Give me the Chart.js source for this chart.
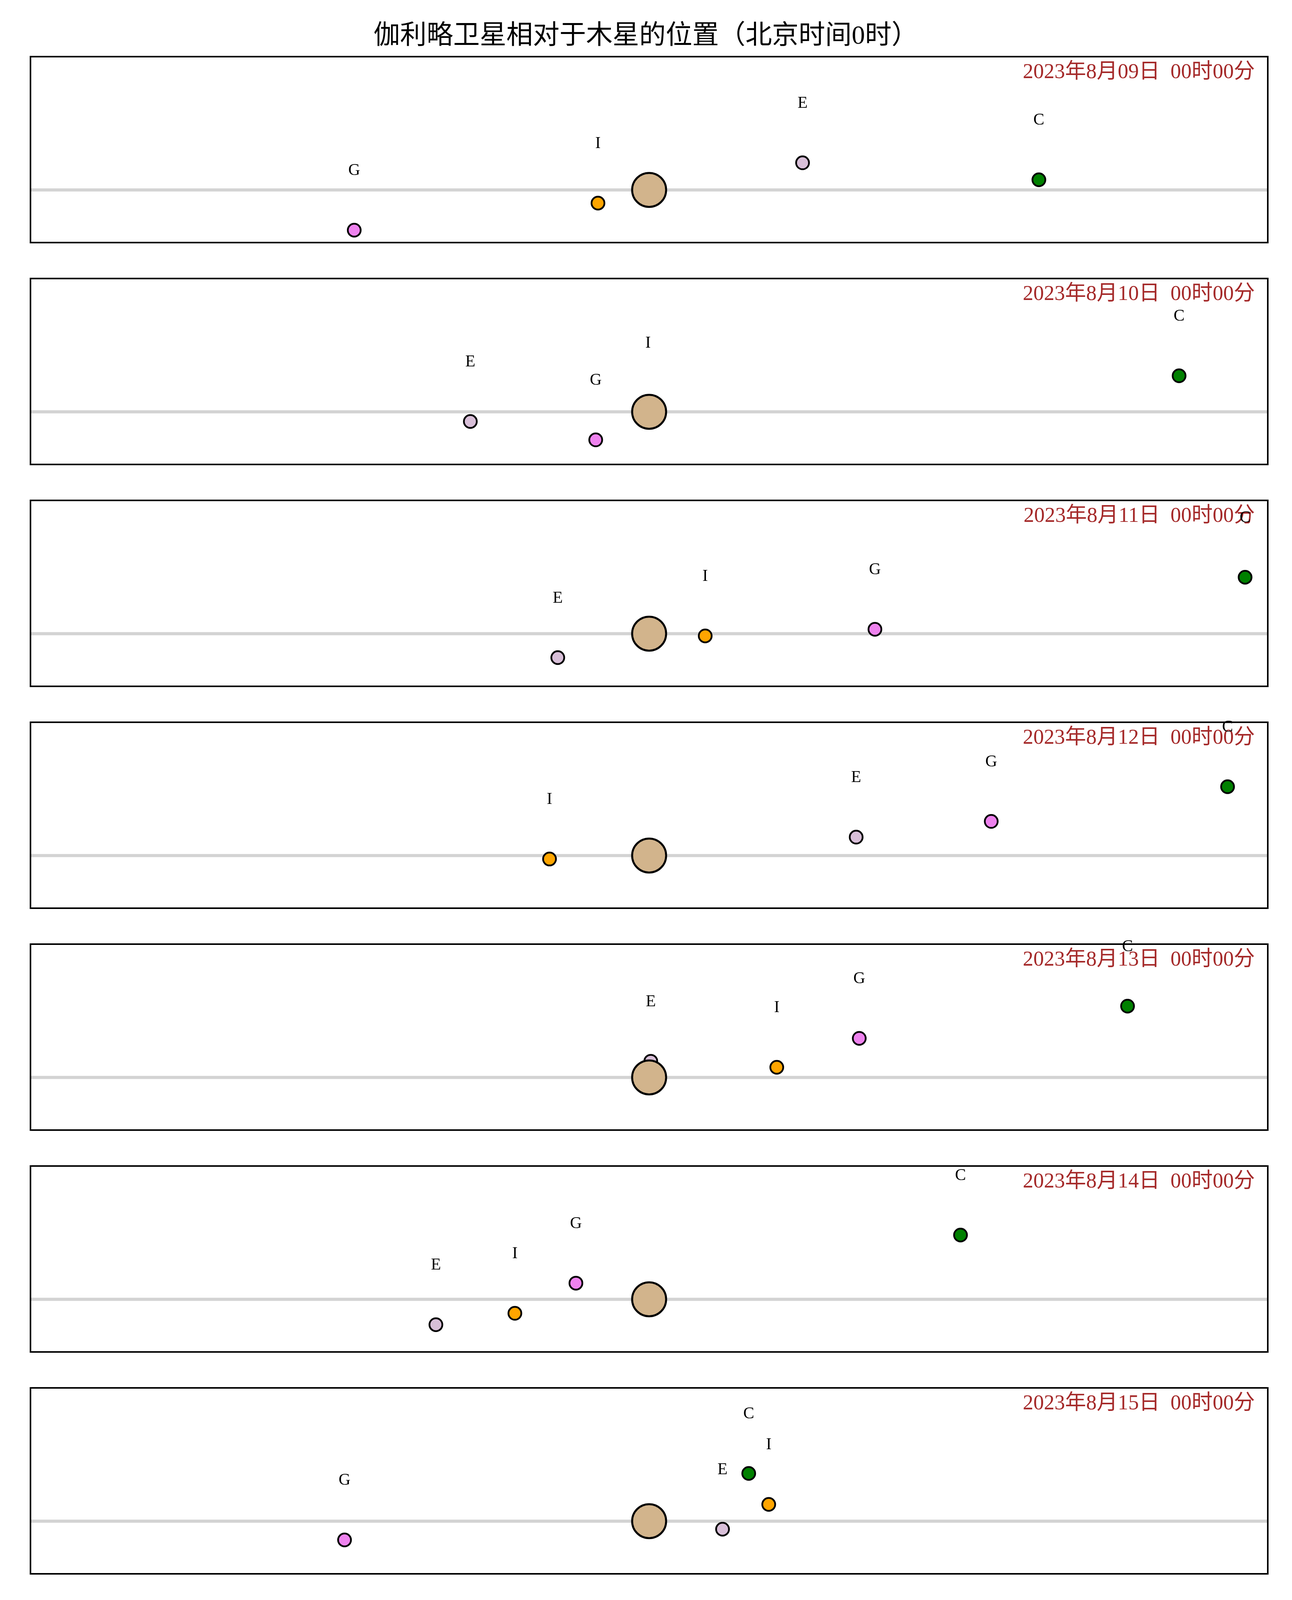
<!DOCTYPE html>
<html>
<head>
<meta charset="utf-8">
<script src="https://cdn.jsdelivr.net/npm/chart.js@4.4.0/dist/chart.umd.min.js"></script>
<style>
html,body{margin:0;padding:0;background:#fff;}
#page{position:relative;width:3307px;height:4677px;overflow:hidden;background:#fff;}
.panel{position:absolute;left:68px;width:3187px;height:546px;}
.panel canvas{display:block;}
#title{position:absolute;left:0;top:55px;width:3306px;text-align:center;font-size:68px;line-height:68px;font-family:"Liberation Serif","Noto Sans CJK SC";color:#000;white-space:nowrap;}
#credit{position:absolute;left:33px;top:4644px;font-size:30px;line-height:30px;font-family:"Liberation Mono","DejaVu Sans Mono";color:#000;white-space:nowrap;}
#wm{position:absolute;right:86px;top:4494px;font-size:96px;line-height:96px;font-family:"Noto Sans CJK SC";color:#b2b2b2;white-space:nowrap;z-index:10;}
</style>
</head>
<body>
<div id="page">
  <div id="title">伽利略卫星相对于木星的位置（北京时间0时）</div>
  <div id="credit">Credit: ZY-LunarCrater</div>
  <div id="wm">知乎 @天文在线</div>
</div>
<script>
// ---- data ----
const dates = [
  "2023年8月09日  00时00分",
  "2023年8月10日  00时00分",
  "2023年8月11日  00时00分",
  "2023年8月12日  00时00分",
  "2023年8月13日  00时00分",
  "2023年8月14日  00时00分",
  "2023年8月15日  00时00分",
  "2023年8月16日  00时00分"
];
const moonLabels = ["I", "E", "G", "C"];
const ioX       = [-2.48, -0.05,  2.72, -4.83,  6.19,  -6.51,   5.80, -4.07];
const ioY       = [-0.64,  0.44, -0.11, -0.17,  0.49,  -0.68,   0.81, -0.74];
const europaX   = [ 7.44, -8.67, -4.43, 10.04,  0.08, -10.34,   3.56,  8.64];
const europaY   = [ 1.31, -0.47, -1.16,  0.89,  0.78,  -1.23,  -0.39,  1.36];
const ganymedeX = [-14.30, -2.59, 10.95, 16.59, 10.19, -3.55, -14.77, -15.38];
const ganymedeY = [-1.95, -1.36,  0.21,  1.65,  1.89,   0.78,  -0.91, -1.95];
const callistoX = [18.90, 25.70, 28.90, 28.05, 23.20,  15.10,   4.83, -6.16];
const callistoY = [ 0.49,  1.74,  2.73,  3.33,  3.45,   3.11,   2.31,  1.16];
const jupiterX = [0];
const jupiterY = [0];
const xRange = [-30, 30];
const yRange = [-2.55, 6.45];

// ---- styles ----
const moonColors = ["#ffa500", "#d8bfd8", "#ee82ee", "#008000"];
const moonSeries = [[ioX, ioY], [europaX, europaY], [ganymedeX, ganymedeY], [callistoX, callistoY]];

const decoPlugin = {
  id: 'panelDeco',
  afterDatasetsDraw(chart, args, opts) {
    const {ctx, chartArea: a} = chart;
    ctx.save();
    ctx.lineWidth = 4;
    ctx.strokeStyle = '#000';
    ctx.strokeRect(a.left, a.top, a.right - a.left, a.bottom - a.top);
    ctx.restore();
  },
  afterDraw(chart, args, opts) {
    const {ctx, chartArea: a} = chart;
    ctx.save();
    ctx.font = '54px "Liberation Serif", "Noto Sans CJK SC"';
    ctx.fillStyle = '#a52a2a';
    ctx.textAlign = 'right';
    ctx.textBaseline = 'alphabetic';
    ctx.fillText(opts.date, a.right - 33, a.top + 55);
    ctx.font = '42px "Liberation Serif"';
    ctx.fillStyle = '#000';
    ctx.textAlign = 'center';
    ctx.textBaseline = 'middle';
    chart.data.datasets.forEach((ds, di) => {
      if (!ds.moonLabel) return;
      const meta = chart.getDatasetMeta(di);
      meta.data.forEach(el => ctx.fillText(ds.moonLabel, el.x, el.y - 152));
    });
    ctx.restore();
  }
};

const page = document.getElementById('page');
for (let i = 0; i < dates.length; i++) {
  const div = document.createElement('div');
  div.className = 'panel';
  div.style.top = (145 + i * 568 - 60) + 'px';
  const cv = document.createElement('canvas');
  div.appendChild(cv);
  page.appendChild(div);

  const datasets = [];
  datasets.push({
    type: 'scatter',
    label: '木星',
    data: jupiterX.map((x, k) => ({x: x, y: jupiterY[k]})),
    backgroundColor: '#d2b48c',
    borderColor: '#000',
    borderWidth: 5,
    pointRadius: 43.5,
    pointHoverRadius: 43.5,
    order: 0
  });
  moonSeries.forEach((s, m) => {
    datasets.push({
      type: 'scatter',
      label: moonLabels[m],
      moonLabel: moonLabels[m],
      data: [{x: s[0][i], y: s[1][i]}],
      backgroundColor: moonColors[m],
      borderColor: '#000',
      borderWidth: 4.5,
      pointRadius: 16.5,
      pointHoverRadius: 16.5,
      order: 1 + m
    });
  });
  datasets.push({
    type: 'line',
    label: 'axis',
    data: xRange.map(x => ({x: x, y: 0})),
    borderColor: '#d3d3d3',
    borderWidth: 8,
    pointRadius: 0,
    fill: false,
    order: 10
  });

  new Chart(cv, {
    type: 'scatter',
    data: {datasets: datasets},
    options: {
      responsive: true,
      maintainAspectRatio: false,
      devicePixelRatio: 1,
      animation: false,
      events: [],
      layout: {autoPadding: false, padding: {left: 10, right: 10, top: 60, bottom: 10}},
      scales: {
        x: {type: 'linear', min: xRange[0], max: xRange[1], display: false},
        y: {type: 'linear', min: yRange[0], max: yRange[1], display: false}
      },
      plugins: {
        legend: {display: false},
        tooltip: {enabled: false},
        panelDeco: {date: dates[i]}
      }
    },
    plugins: [decoPlugin]
  });
}
</script>
</body>
</html>
